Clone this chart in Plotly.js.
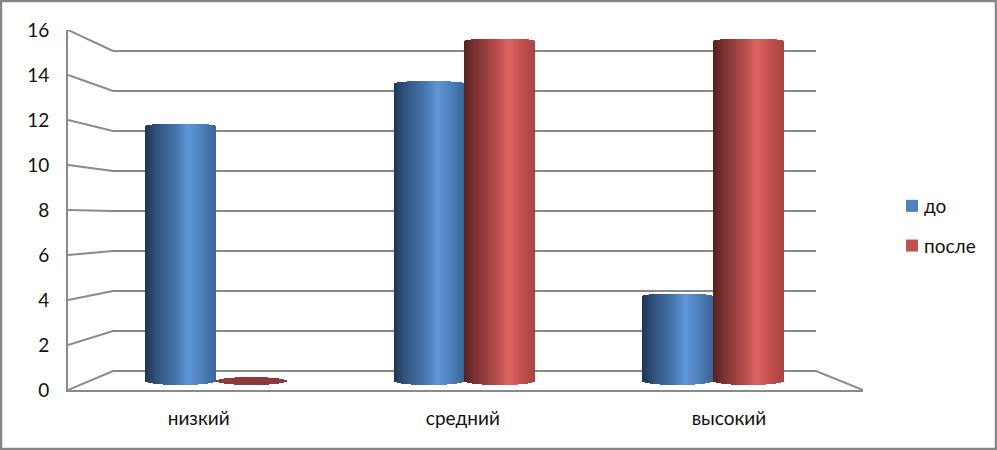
<!DOCTYPE html>
<html><head><meta charset="utf-8">
<script src="https://cdn.plot.ly/plotly-3.0.1.min.js"></script>
<style>html,body{margin:0;padding:0;background:#fff}#c{width:997px;height:450px}</style>
</head><body><div id="c"></div>
<script>
const categories = ['низкий', 'средний', 'высокий'];
const seriesNames = ['до', 'после'];
const valuesBefore = [12, 14, 4];
const valuesAfter = [0, 16, 16];
const yTicks = [0, 2, 4, 6, 8, 10, 12, 14, 16];

const FONT = 'Lato, "Open Sans", sans-serif';
const GRID = '#8a8a8a';
const blueStops = [[0,'#1f3553'],[.15,'#2f5079'],[.45,'#4778b2'],[.62,'#6096d8'],[.82,'#4c7db8'],[1,'#3a6595']];
const redStops = [[0,'#562020'],[.15,'#7a3231'],[.45,'#b54c4a'],[.62,'#dd6463'],[.82,'#c24f4d'],[1,'#a54543']];
const FLAT_RED = '#8e3a38';

function hex(c){return [1,3,5].map(i=>parseInt(c.substr(i,2),16));}
function shade(stops,t){
  for(let i=1;i<stops.length;i++){
    if(t<=stops[i][0]){
      const a=stops[i-1],b=stops[i],f=(t-a[0])/(b[0]-a[0]);
      const ca=hex(a[1]),cb=hex(b[1]);
      return 'rgb('+ca.map((v,k)=>Math.round(v+(cb[k]-v)*f)).join(',')+')';
    }
  }
  return stops[stops.length-1][1];
}

// Cylinders live on their own overlaid axes (x2/y2): 248.5 px per group, 21.25 px per unit.
const BAR_W = 0.285, SLICES = 72;
const PX_Y = 1/21.25;
function cylinders(vals, side, stops){
  const xs=[],tops=[],bases=[],cols=[],w=[];
  vals.forEach((v,g)=>{
    for(let s=0;s<SLICES;s++){
      const t=(s+.5)/SLICES, u=2*t-1, arc=Math.sqrt(1-u*u);
      const up=(v===0?4:2.5)*PX_Y*arc, dn=4*PX_Y*arc;
      xs.push(g+side*BAR_W/2+u*BAR_W/2);
      bases.push(-dn);
      tops.push(v+up+dn);
      cols.push(v===0?FLAT_RED:shade(stops,t));
      w.push(BAR_W/SLICES*1.25);
    }
  });
  return {type:'bar',x:xs,y:tops,base:bases,width:w,xaxis:'x2',yaxis:'y2',
    marker:{color:cols,line:{width:0}},showlegend:false,hoverinfo:'skip'};
}
function legendBar(name,vals,side,color,group){
  return {type:'bar',name:name,x:categories.map((c,g)=>g+side*BAR_W/2),y:vals,width:BAR_W,
    xaxis:'x2',yaxis:'y2',marker:{color:color,line:{width:0}},legendgroup:group};
}

// Wall lines in main-axis coordinates (front 22.5 px/unit, back wall 20 px/unit).
const WALL_L=45/265, WALL_R=47/265, backY=i=>(19+20*i)/22.5;
const gx=[],gy=[];
yTicks.forEach(i=>{
  gx.push(-.5,-.5+WALL_L,2.5-WALL_R); gy.push(i,backY(i),backY(i));
  if(i===0){gx.push(2.5);gy.push(0);}
  gx.push(null);gy.push(null);
});
const grid={type:'scatter',mode:'lines',x:gx,y:gy,line:{color:GRID,width:2},showlegend:false,hoverinfo:'skip',cliponaxis:false};

const data=[grid,
  legendBar(seriesNames[0],valuesBefore,-1,'#4f81bd','a'),
  legendBar(seriesNames[1],valuesAfter,1,'#c0504d','b'),
  cylinders(valuesBefore,-1,blueStops),
  cylinders(valuesAfter,1,redStops)];

const layout={
  width:997,height:450,showlegend:true,barmode:'overlay',bargap:0,
  margin:{l:68,r:134,t:30,b:60,pad:0,autoexpand:false},
  paper_bgcolor:'#fff',plot_bgcolor:'#fff',
  font:{family:FONT,size:19,color:'#111'},
  xaxis:{range:[-.5,2.5],tickmode:'array',tickvals:[-.007,.99,1.994],ticktext:categories,showgrid:false,zeroline:false,
    showline:true,linecolor:GRID,linewidth:2,ticks:'outside',ticklen:10,tickcolor:'rgba(0,0,0,0)',tickfont:{size:19}},
  yaxis:{range:[0,16],tickmode:'array',tickvals:yTicks,showgrid:false,zeroline:false,
    showline:true,linecolor:GRID,linewidth:2,ticks:'outside',ticklen:13,tickcolor:'rgba(0,0,0,0)',tickfont:{size:19}},
  xaxis2:{overlaying:'x',visible:false,range:[-148/248.5,647/248.5],fixedrange:true},
  yaxis2:{overlaying:'y',visible:false,range:[-9/21.25,351/21.25],fixedrange:true},
  legend:{x:(892-68)/795,y:(390-187)/360,xanchor:'left',yanchor:'top',tracegroupgap:12,font:{size:19},
    bgcolor:'rgba(0,0,0,0)'},
  shapes:[{type:'rect',xref:'paper',yref:'paper',x0:-67/795,x1:928/795,y0:-59/360,y1:389/360,line:{color:'#868686',width:2.5},fillcolor:'rgba(0,0,0,0)',layer:'below'}]
};
Plotly.newPlot('c',data,layout,{displayModeBar:false,staticPlot:true}).then(()=>{
  document.querySelectorAll('#c .legendtext').forEach(t=>t.setAttribute('x',32));
});
</script></body></html>
